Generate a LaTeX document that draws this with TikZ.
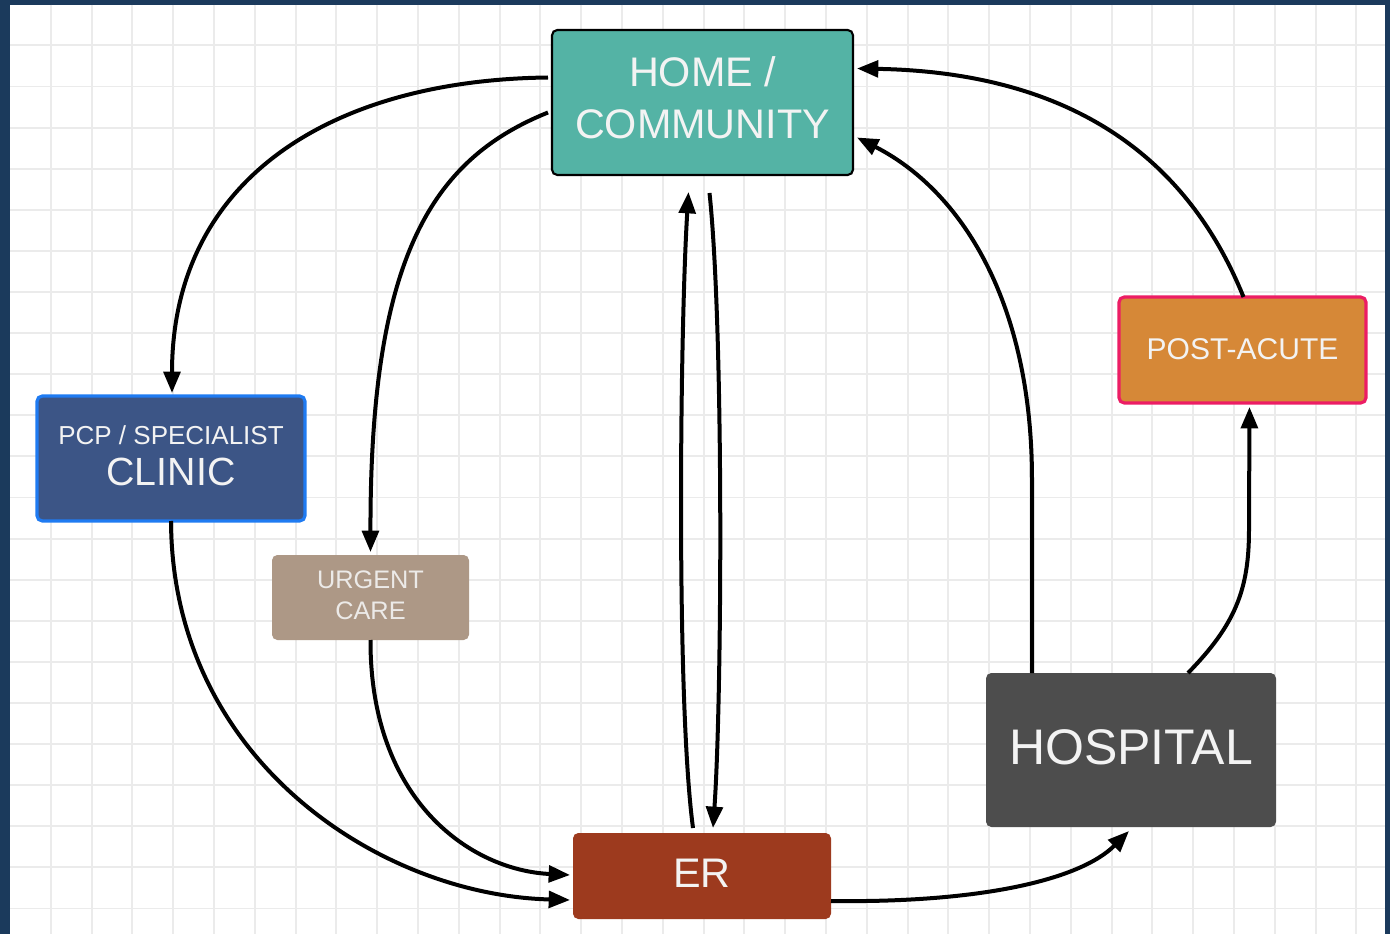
\documentclass[tikz,border=0pt]{standalone}
\usepackage{fontspec}
\setmainfont{Liberation Sans}
\usetikzlibrary{calc,arrows.meta}
\definecolor{frame}{HTML}{1B3A5C}
\definecolor{gridc}{HTML}{EBEBEB}
\definecolor{teal}{HTML}{54B3A5}
\definecolor{pcpfill}{HTML}{3C5586}
\definecolor{pcpline}{HTML}{1F7BF2}
\definecolor{ucfill}{HTML}{AD9886}
\definecolor{pafill}{HTML}{D68837}
\definecolor{paline}{HTML}{EC1D64}
\definecolor{erfill}{HTML}{9D3A1E}
\definecolor{hospfill}{HTML}{4D4D4D}
\definecolor{txt}{HTML}{F3F3F3}
% centred block of lines, raised by #1
\newcommand{\boxlines}[2]{\raisebox{#1}{\begin{tabular}{@{}c@{}}#2\end{tabular}}}
\tikzset{
  box/.style={rectangle, rounded corners=4pt, outer sep=0pt, inner sep=0pt,
    text=txt},
  edge/.style={line width=3pt, black, -{Triangle[length=16pt,width=12.5pt]}},
}
\begin{document}
\begin{tikzpicture}[x=0.75pt,y=-0.75pt]
\useasboundingbox (0,0) rectangle (1390,934);
% page frame and grid paper
\fill[frame] (0,0) rectangle (1390,934);
\fill[white] (10,5) rectangle (1385,934);
\begin{scope}
  \clip (10,5) rectangle (1385,934);
  \foreach \k in {1,...,33} {
    \draw[gridc, line width=1.4pt] ({10+40.8*\k},5) -- ({10+40.8*\k},934);
  }
  \foreach \k in {1,...,22} {
    \draw[gridc, line width=1.4pt] (10,{4.3+41.1*\k}) -- (1385,{4.3+41.1*\k});
  }
\end{scope}

% care settings
\node[box, fill=teal, draw=black, line width=1.6pt,
  minimum width=225.75pt, minimum height=108.75pt,
  font=\fontsize{31}{39}\selectfont] (home) at (702.5,102.5)
  {\boxlines{1.4pt}{HOME /\\COMMUNITY}};
\node[box, fill=pcpfill, draw=pcpline, line width=2.4pt,
  minimum width=201pt, minimum height=93.75pt,
  font=\fontsize{19.5}{24}\selectfont] (pcp) at (171,458.5)
  {\boxlines{3.3pt}{PCP / SPECIALIST\\[3.5pt]\fontsize{29.5}{34}\selectfont CLINIC}};
\node[box, fill=ucfill, text=txt!90!ucfill,
  minimum width=147.75pt, minimum height=63.75pt,
  font=\fontsize{19}{23.25}\selectfont] (urgent) at (370.5,597.5)
  {\boxlines{0pt}{URGENT\\CARE}};
\node[box, fill=pafill, draw=paline, line width=2.4pt,
  minimum width=185.25pt, minimum height=79.5pt,
  font=\fontsize{22.5}{27}\selectfont] (post) at (1242.5,350)
  {\raisebox{2pt}{POST-ACUTE}};
\node[box, fill=erfill, minimum width=193.5pt, minimum height=64.5pt,
  font=\fontsize{31}{36}\selectfont] (er) at (702,876) {\raisebox{3.5pt}{ER}};
\node[box, fill=hospfill, minimum width=217.5pt, minimum height=115.5pt,
  font=\fontsize{37.5}{42}\selectfont] (hosp) at (1131,750) {\raisebox{5pt}{HOSPITAL}};

% patient flows
\draw[edge] ($(home.west)+(-4,-25)$) .. controls (330,80) and (172,180) .. ($(pcp.north)+(1,-3)$);
\draw[edge] ($(home.west)+(-4,10)$) .. controls (430,160) and (370,260) .. ($(urgent.north)+(0,-3)$);
\draw[edge] ($(er.north)+(-9,-5)$) .. controls (676,700) and (680,330) .. ($(home.south)+(-14,17)$);
\draw[edge] ($(home.south)+(7,18)$) .. controls (724,330) and (722,700) .. ($(er.north)+(11,-5)$);
\draw[edge] ($(hosp.north)+(-99,0)$) -- (1032,480) .. controls (1032,300) and (960,190) .. ($(home.east)+(4,35)$);
\draw[edge] ($(post.north)+(1,0)$) .. controls (1180,140) and (1050,72) .. ($(home.east)+(4,-34)$);
\draw[edge] ($(hosp.north)+(57,0)$) .. controls (1235,625) and (1249,590) .. (1249,530) -- ($(post.south)+(7,4)$);
\draw[edge] (pcp.south) .. controls (172,760) and (380,895) .. ($(er.west)+(-3,24)$);
\draw[edge] (urgent.south) .. controls (370,800) and (470,870) .. ($(er.west)+(-3,-1)$);
\draw[edge] ($(er.east)+(0,25)$) .. controls (980,903) and (1080,880) .. ($(hosp.south)+(-2,4)$);
\end{tikzpicture}
\end{document}
